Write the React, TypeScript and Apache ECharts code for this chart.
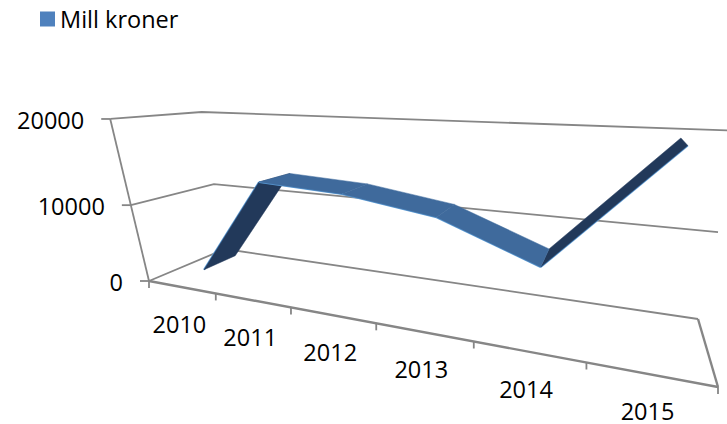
import React, { useEffect, useRef } from "react";
import * as echarts from "echarts";

const categories = ["2010", "2011", "2012", "2013", "2014", "2015"];
const seriesName = "Mill kroner";
const values = [890, 13300, 12800, 11300, 7350, 19500];
const valueTicks = [0, 10000, 20000];
const valueMax = 20000;

const W = 727;
const H = 424;
const FONT_SIZE = 23.5;
const FONT = `${FONT_SIZE}px "Open Sans", sans-serif`;
const GRAY = "#868686";

// Perspective camera: floor corners in pixels plus the vertical column of the projection.
const A = [149, 281];
const B = [718, 387];
const D = [698, 319];
const C = [225, 249];
const VP = -52;
const VQ = -176.3;
const VR = -0.12;
const NEAR = 0.29;
const FAR = 0.72;

const det = (a: number[], b: number[]) => a[0] * b[1] - a[1] * b[0];
const dx1 = [B[0] - D[0], B[1] - D[1]];
const dx2 = [C[0] - D[0], C[1] - D[1]];
const sum = [A[0] - B[0] + D[0] - C[0], A[1] - B[1] + D[1] - C[1]];
const dd = det(dx1, dx2);
const G = det(sum, dx2) / dd;
const K = det(dx1, sum) / dd;
const a1 = B[0] * (1 + G) - A[0];
const a2 = C[0] * (1 + K) - A[0];
const b1 = B[1] * (1 + G) - A[1];
const b2 = C[1] * (1 + K) - A[1];

function project(u: number, v: number, w: number): number[] {
  const den = 1 + G * u + K * w + VR * v;
  return [
    (A[0] + a1 * u + a2 * w + VP * v) / den,
    (A[1] + b1 * u + b2 * w + VQ * v) / den,
  ];
}

// Reads axis fractions from the library's own scales (the grid fills the whole canvas).
const fracV = (api: any, value: number) => 1 - api.coord([0, value])[1] / H;
const fracU = (api: any, index: number) => api.coord([index, 0])[0] / W;

const line = (pts: number[][], width: number, color = GRAY) => ({
  type: "polyline",
  shape: { points: pts },
  style: { stroke: color, lineWidth: width, fill: "none" },
  silent: true,
});

const rows = values.map((v, i) => [i, v]);

function segmentPoints(api: any, i: number) {
  const u0 = fracU(api, i);
  const u1 = fracU(api, i + 1);
  const v0 = fracV(api, values[i]);
  const v1 = fracV(api, values[i + 1]);
  return {
    rising: values[i + 1] > values[i],
    quad: [
      project(u0, v0, NEAR),
      project(u1, v1, NEAR),
      project(u1, v1, FAR),
      project(u0, v0, FAR),
    ],
  };
}

function renderFrame(_: any, api: any) {
  const level = api.value(1);
  const v = fracV(api, level);
  const fl = project(0, v, 0);
  const bl = project(0, v, 1);
  const br = project(1, v, 1);
  const children: any[] = [
    line([[fl[0] - 9, fl[1]], fl], 1.8),
    line([fl, bl, br], 1.8),
  ];
  children.push({
    type: "text",
    silent: true,
    style: {
      text: String(level),
      x: fl[0] - 26,
      y: fl[1] + 1,
      align: "right",
      verticalAlign: "middle",
      font: FONT,
      fill: "#000",
    },
  });
  return { type: "group", children };
}

function renderFloor(_: any, api: any) {
  const v1 = fracV(api, valueMax);
  const a = project(0, 0, 0);
  const b = project(1, 0, 0);
  const d = project(1, 0, 1);
  const top = project(0, v1, 0);
  const children: any[] = [line([a, b], 2.4), line([b, d], 2.4), line([a, top], 1.8)];
  for (let i = 0; i <= categories.length; i++) {
    const p = project(i / categories.length, 0, 0);
    children.push(line([p, [p[0], p[1] + 7]], 1.8));
  }
  return { type: "group", children };
}

function renderCategoryLabel(_: any, api: any) {
  const i = api.value(0);
  const p = project(fracU(api, i), 0, 0);
  return {
    type: "text",
    silent: true,
    style: {
      text: categories[i],
      x: p[0] - 2,
      y: p[1] + 37,
      align: "center",
      verticalAlign: "middle",
      lineHeight: 22,
      font: FONT,
      fill: "#000",
    },
  };
}

const renderFace = (wantRising: boolean) => (_: any, api: any) => {
  const i = api.value(0);
  if (i >= values.length - 1) return null;
  const { rising, quad } = segmentPoints(api, i);
  if (rising !== wantRising) return null;
  return {
    type: "group",
    children: [
      line([quad[0], quad[1]], 2, "#5B9BD5"),
      {
        type: "polygon",
        silent: true,
        shape: { points: quad },
        style: {
          fill: rising ? "#22395A" : "#3F6A9C",
          stroke: rising ? "#22395A" : "#3F6A9C",
          lineWidth: 0.5,
        },
      },
    ],
  };
};

const hidden = { show: false };
const custom = (renderItem: any, data: any[], name?: string) => ({
  type: "custom",
  name,
  coordinateSystem: "cartesian2d",
  clip: false,
  silent: true,
  renderItem,
  data,
});

export default function App() {
  const ref = useRef<HTMLDivElement>(null);
  useEffect(() => {
    const chart = echarts.init(ref.current!, undefined, { renderer: "svg" });
    chart.setOption({
      animation: false,
      color: ["#4F81BD"],
      legend: {
        data: [seriesName],
        left: 40,
        top: 7,
        padding: 0,
        itemWidth: 15,
        itemHeight: 15,
        icon: "rect",
        itemGap: 7,
        textStyle: { fontFamily: "Open Sans", fontSize: FONT_SIZE, color: "#000" },
      },
      grid: { left: 0, right: 0, top: 0, bottom: 0 },
      xAxis: { type: "category", data: categories, ...hidden },
      yAxis: { type: "value", min: 0, max: valueMax, ...hidden },
      series: [
        custom(renderFrame, valueTicks.map((t) => [0, t])),
        custom(renderFloor, [[0, 0]]),
        custom(renderCategoryLabel, rows),
        custom(renderFace(true), rows),
        custom(renderFace(false), rows, seriesName),
      ],
    });
    return () => chart.dispose();
  }, []);
  return <div ref={ref} style={{ position: "absolute", left: 0, top: 0, width: W, height: H }} />;
}
